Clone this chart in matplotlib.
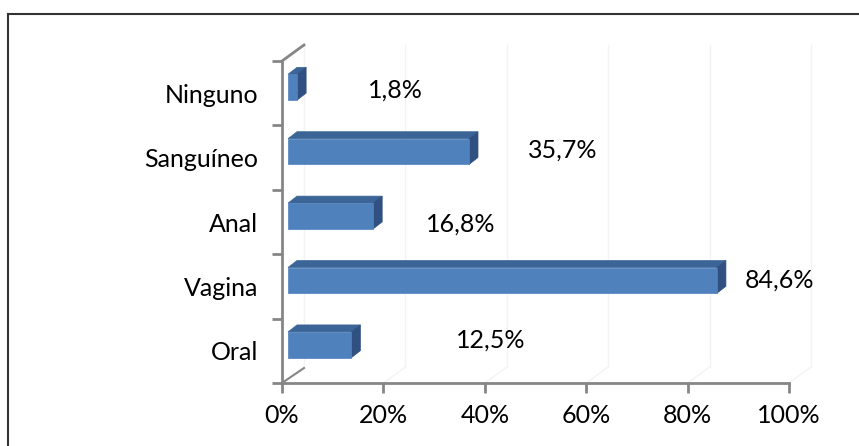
import matplotlib
matplotlib.use("Agg")
import matplotlib.pyplot as plt
from matplotlib.patches import Polygon
from matplotlib.lines import Line2D

categories = ["Oral", "Vagina", "Anal", "Sanguíneo", "Ninguno"]
values = [12.5, 84.6, 16.8, 35.7, 1.8]
value_labels = ["12,5%", "84,6%", "16,8%", "35,7%", "1,8%"]
xticks = [0, 20, 40, 60, 80, 100]
xtick_labels = ["0%", "20%", "40%", "60%", "80%", "100%"]

# label placement (styling): x in data units, y offset in pixels
label_x = [34.3, 91.3, 28.4, 48.5, 17.0]
label_dy = [11, 6.5, -2, 7.5, 3]

plt.rcParams['font.family'] = ['Lato', 'DejaVu Sans']
W, H = 859, 446
DPI = 100
FS = 18
fig = plt.figure(figsize=(W / DPI, H / DPI), dpi=DPI)
ax = fig.add_axes([282 / W, 63 / H, 507 / W, 322 / H])
ax.set_xlim(0, 100)
ax.set_ylim(-0.5, len(categories) - 0.5)
ax.set_facecolor("none")

gray = "#868686"
for s in ["top", "right"]:
    ax.spines[s].set_visible(False)
ax.spines["left"].set_color(gray)
ax.spines["bottom"].set_color(gray)
ax.spines["left"].set_linewidth(2)
ax.spines["bottom"].set_linewidth(2)

ax.set_xticks(xticks)
ax.set_xticklabels(xtick_labels, fontsize=FS)
ax.set_yticks([i - 0.5 for i in range(len(categories) + 1)])
ax.set_yticklabels([])
ax.set_yticks(range(len(categories)), minor=True)
ax.set_yticklabels(categories, minor=True, fontsize=FS)
ax.tick_params(axis="x", length=7, width=2, color=gray, pad=8)
ax.tick_params(axis="y", which="major", length=7, width=2, color=gray, direction="out")
ax.tick_params(axis="y", which="minor", length=0, pad=17)

fig.canvas.draw()
inv = fig.transFigure.inverted()

def to_fig(pts):
    return inv.transform(pts)

# back wall depth
bdx, bdy = 22, 16
x0, yb = ax.transData.transform((0, -0.5))
_, yt = ax.transData.transform((0, len(categories) - 0.5))
for t in xticks:
    xt, _ = ax.transData.transform((t, -0.5))
    fig.add_artist(Line2D(*to_fig([(xt + bdx, yb + bdy), (xt + bdx, yt + bdy)]).T,
                          color="#f3f3f3", lw=1, zorder=0))
    if t > 0:
        fig.add_artist(Line2D(*to_fig([(xt, yb), (xt + bdx, yb + bdy)]).T,
                              color="#f3f3f3", lw=1, zorder=0))
fig.add_artist(Line2D(*to_fig([(x0, yt), (x0 + bdx, yt + bdy)]).T, color=gray, lw=2, zorder=3))
fig.add_artist(Line2D(*to_fig([(x0, yb), (x0 + bdx, yb + bdy - 1)]).T, color=gray, lw=1.5, zorder=3))

# 3D bars
front_c = "#4F81BD"
top_c = "#3C6597"
side_c = "#2F5080"
bh = 0.40
ox, oy = 6, 6      # front face offset in pixels
ddx, ddy = 9, 7    # bar depth in pixels
for i, v in enumerate(values):
    xa, ya = ax.transData.transform((0, i - bh / 2))
    xb, yb2 = ax.transData.transform((v, i + bh / 2))
    xa += ox; xb += ox; ya += oy; yb2 += oy
    front = [(xa, ya), (xb, ya), (xb, yb2), (xa, yb2)]
    top = [(xa, yb2), (xb, yb2), (xb + ddx, yb2 + ddy), (xa + ddx, yb2 + ddy)]
    side = [(xb, ya), (xb + ddx, ya + ddy), (xb + ddx, yb2 + ddy), (xb, yb2)]
    for poly, c in [(top, top_c), (side, side_c), (front, front_c)]:
        fig.add_artist(Polygon(to_fig(poly), closed=True, facecolor=c,
                               edgecolor=c, lw=0.5, zorder=4))

# value labels
for i, (lx, lbl) in enumerate(zip(label_x, value_labels)):
    px, py = ax.transData.transform((lx, i))
    fx, fy = to_fig([(px, py + label_dy[i])])[0]
    fig.text(fx, fy, lbl, fontsize=FS, ha="left", va="center", color="black", zorder=5)

# outer border (top and left visible)
fig.add_artist(Line2D(*to_fig([(8, H - 14), (W + 5, H - 14)]).T, color="#333333", lw=1.5))
fig.add_artist(Line2D(*to_fig([(8, H - 14), (8, -5)]).T, color="#333333", lw=1.5))

fig.savefig("out.png", dpi=DPI)
